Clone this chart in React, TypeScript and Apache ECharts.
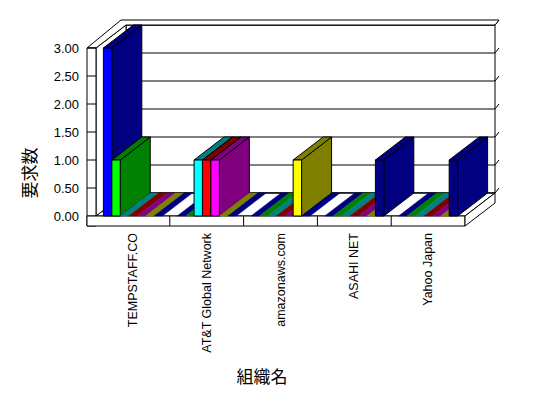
import React, { useEffect, useRef } from 'react';
import * as echarts from 'echarts';

const categories = ['TEMPSTAFF.CO', 'AT&T Global Network', 'amazonaws.com', 'ASAHI NET', 'Yahoo Japan'];
const series1 = [3, 0, 0, 0, 0];
const series2 = [1, 0, 0, 0, 0];
const series3 = [0, 1, 0, 0, 0];
const series4 = [0, 1, 0, 0, 0];
const series5 = [0, 1, 0, 0, 0];
const series6 = [0, 0, 1, 0, 0];
const series7 = [0, 0, 0, 1, 1];
const allSeries = [series1, series2, series3, series4, series5, series6, series7];
const yTicks = [0, 0.5, 1, 1.5, 2, 2.5, 3];
const yTitle = '要求数';
const xTitle = '組織名';

const frontColors = ['#0000FF', '#00FF00', '#00FFFF', '#FF0000', '#FF00FF', '#FFFF00', '#000080'];
const darkColors = ['#000080', '#008000', '#008080', '#800000', '#800080', '#808000', '#000080'];

const DX = 30;
const DY = 23;
const SW = 9;
const SH = 10;
const TH = 4;
const TV = 5;

const LATIN = '"Liberation Sans", Arial, sans-serif';
const CJK = '"Noto Sans CJK JP", sans-serif';

export default function App() {
  const ref = useRef<HTMLDivElement>(null);
  useEffect(() => {
    if (!ref.current) return;
    const chart = echarts.init(ref.current, undefined, { renderer: 'svg' });
    const barData: number[][] = [];
    categories.forEach((_, c) => {
      allSeries.forEach((arr, s) => {
        barData.push([c, arr[c], s]);
      });
    });
    const stroke = { stroke: '#000', lineWidth: 1 };
    const line = (x1: number, y1: number, x2: number, y2: number) => ({
      type: 'line', shape: { x1, y1, x2, y2 }, style: { ...stroke },
    });
    const poly = (points: number[][], fill: string, withStroke = true) => ({
      type: 'polygon', shape: { points },
      style: withStroke ? { fill, ...stroke } : { fill, stroke: fill, lineWidth: 0.5 },
    });

    const option: any = {
      animation: false,
      grid: { left: 96, right: 83, top: 48, bottom: 182, containLabel: false },
      xAxis: {
        type: 'category',
        data: categories,
        axisLine: { show: false },
        axisTick: { show: false },
        splitLine: { show: false },
        axisLabel: { rotate: 90, interval: 0, margin: 17, color: '#000', fontSize: 12.5, fontFamily: LATIN },
      },
      yAxis: {
        type: 'value',
        min: 0,
        max: 3,
        interval: 0.5,
        axisLine: { show: false },
        axisTick: { show: false },
        splitLine: { show: false },
        axisLabel: { margin: 17, color: '#000', fontSize: 13, fontFamily: LATIN, formatter: (v: number) => v.toFixed(2) },
      },
      graphic: [
        {
          type: 'text', x: 28, y: 173, rotation: Math.PI / 2,
          style: { text: yTitle, fill: '#000', font: `17px ${CJK}`, textAlign: 'center', textVerticalAlign: 'middle' },
        },
        {
          type: 'text', x: 262, y: 375,
          style: { text: xTitle, fill: '#000', font: `17px ${CJK}`, textAlign: 'center', textVerticalAlign: 'middle' },
        },
      ],
      series: [
        {
          type: 'custom',
          z: 1,
          silent: true,
          data: [[0, 0]],
          encode: { x: 0, y: 1 },
          renderItem: (params: any, api: any) => {
            const cs = params.coordSys;
            const L = cs.x, R = cs.x + cs.width, T = cs.y, B = cs.y + cs.height;
            const bandW = api.size([1, 0])[0];
            const children: any[] = [];
            // back wall
            children.push(poly([[L + DX, T - DY], [R + DX, T - DY], [R + DX, B - DY], [L + DX, B - DY]], '#fff'));
            // floor top
            children.push(poly([[L, B], [R, B], [R + DX, B - DY], [L + DX, B - DY]], '#fff'));
            // left wall inner face
            children.push(poly([[L, T], [L + DX, T - DY], [L + DX, B - DY], [L, B]], '#fff'));
            // gridlines on back wall
            yTicks.forEach((v) => {
              const y = api.coord([0, v])[1];
              children.push(line(L + DX, y - DY, R + DX, y - DY));
              children.push(line(R + DX, y - DY, R + DX + TH, y - DY - TV));
            });
            // top of left slab / back wall thickness
            children.push(poly([
              [L - SW, T], [L, T], [L + DX, T - DY], [R + DX, T - DY],
              [R + DX + TH, T - DY - TV], [L - SW + DX + TH, T - DY - TV],
            ], '#fff'));
            // left slab front face
            children.push(poly([[L - SW, T], [L, T], [L, B + SH], [L - SW, B + SH]], '#fff'));
            yTicks.forEach((v) => {
              const y = api.coord([0, v])[1];
              children.push(line(L - SW, y, L, y));
            });
            // floor slab front face
            children.push(poly([[L - SW, B], [R, B], [R, B + SH], [L - SW, B + SH]], '#fff'));
            for (let i = 1; i < categories.length; i++) {
              const x = api.coord([i, 0])[0] - bandW / 2;
              children.push(line(x, B, x, B + SH));
            }
            // floor slab right face
            children.push(poly([[R, B], [R + DX, B - DY], [R + DX, B - DY + SH], [R, B + SH]], '#fff'));
            return { type: 'group', children };
          },
        },
        {
          type: 'custom',
          z: 2,
          silent: true,
          data: barData,
          encode: { x: 0, y: 1 },
          renderItem: (params: any, api: any) => {
            const c = api.value(0);
            const v = api.value(1);
            const s = api.value(2);
            const n = allSeries.length;
            const bandW = api.size([1, 0])[0];
            const base = api.coord([c, 0]);
            const top = api.coord([c, v]);
            const slotW = (bandW * 0.8) / n;
            const x0 = base[0] - bandW / 2 + bandW * 0.1 + s * slotW;
            const x1 = x0 + slotW;
            const yb = base[1];
            const yt = top[1];
            const front = frontColors[s];
            const dark = darkColors[s];
            if (v === 0) {
              return {
                type: 'group',
                children: [poly([[x0, yb], [x1, yb], [x1 + DX, yb - DY], [x0 + DX, yb - DY]], dark, false)],
              };
            }
            return {
              type: 'group',
              children: [
                poly([[x1, yt], [x1 + DX, yt - DY], [x1 + DX, yb - DY], [x1, yb]], dark),
                poly([[x0, yt], [x1, yt], [x1 + DX, yt - DY], [x0 + DX, yt - DY]], dark),
                poly([[x0, yt], [x1, yt], [x1, yb], [x0, yb]], front),
              ],
            };
          },
        },
      ],
    };
    chart.setOption(option);
    return () => chart.dispose();
  }, []);
  return (
    <div
      ref={ref}
      style={{ position: 'fixed', left: 0, top: 0, width: 548, height: 398, background: '#fff' }}
    />
  );
}
